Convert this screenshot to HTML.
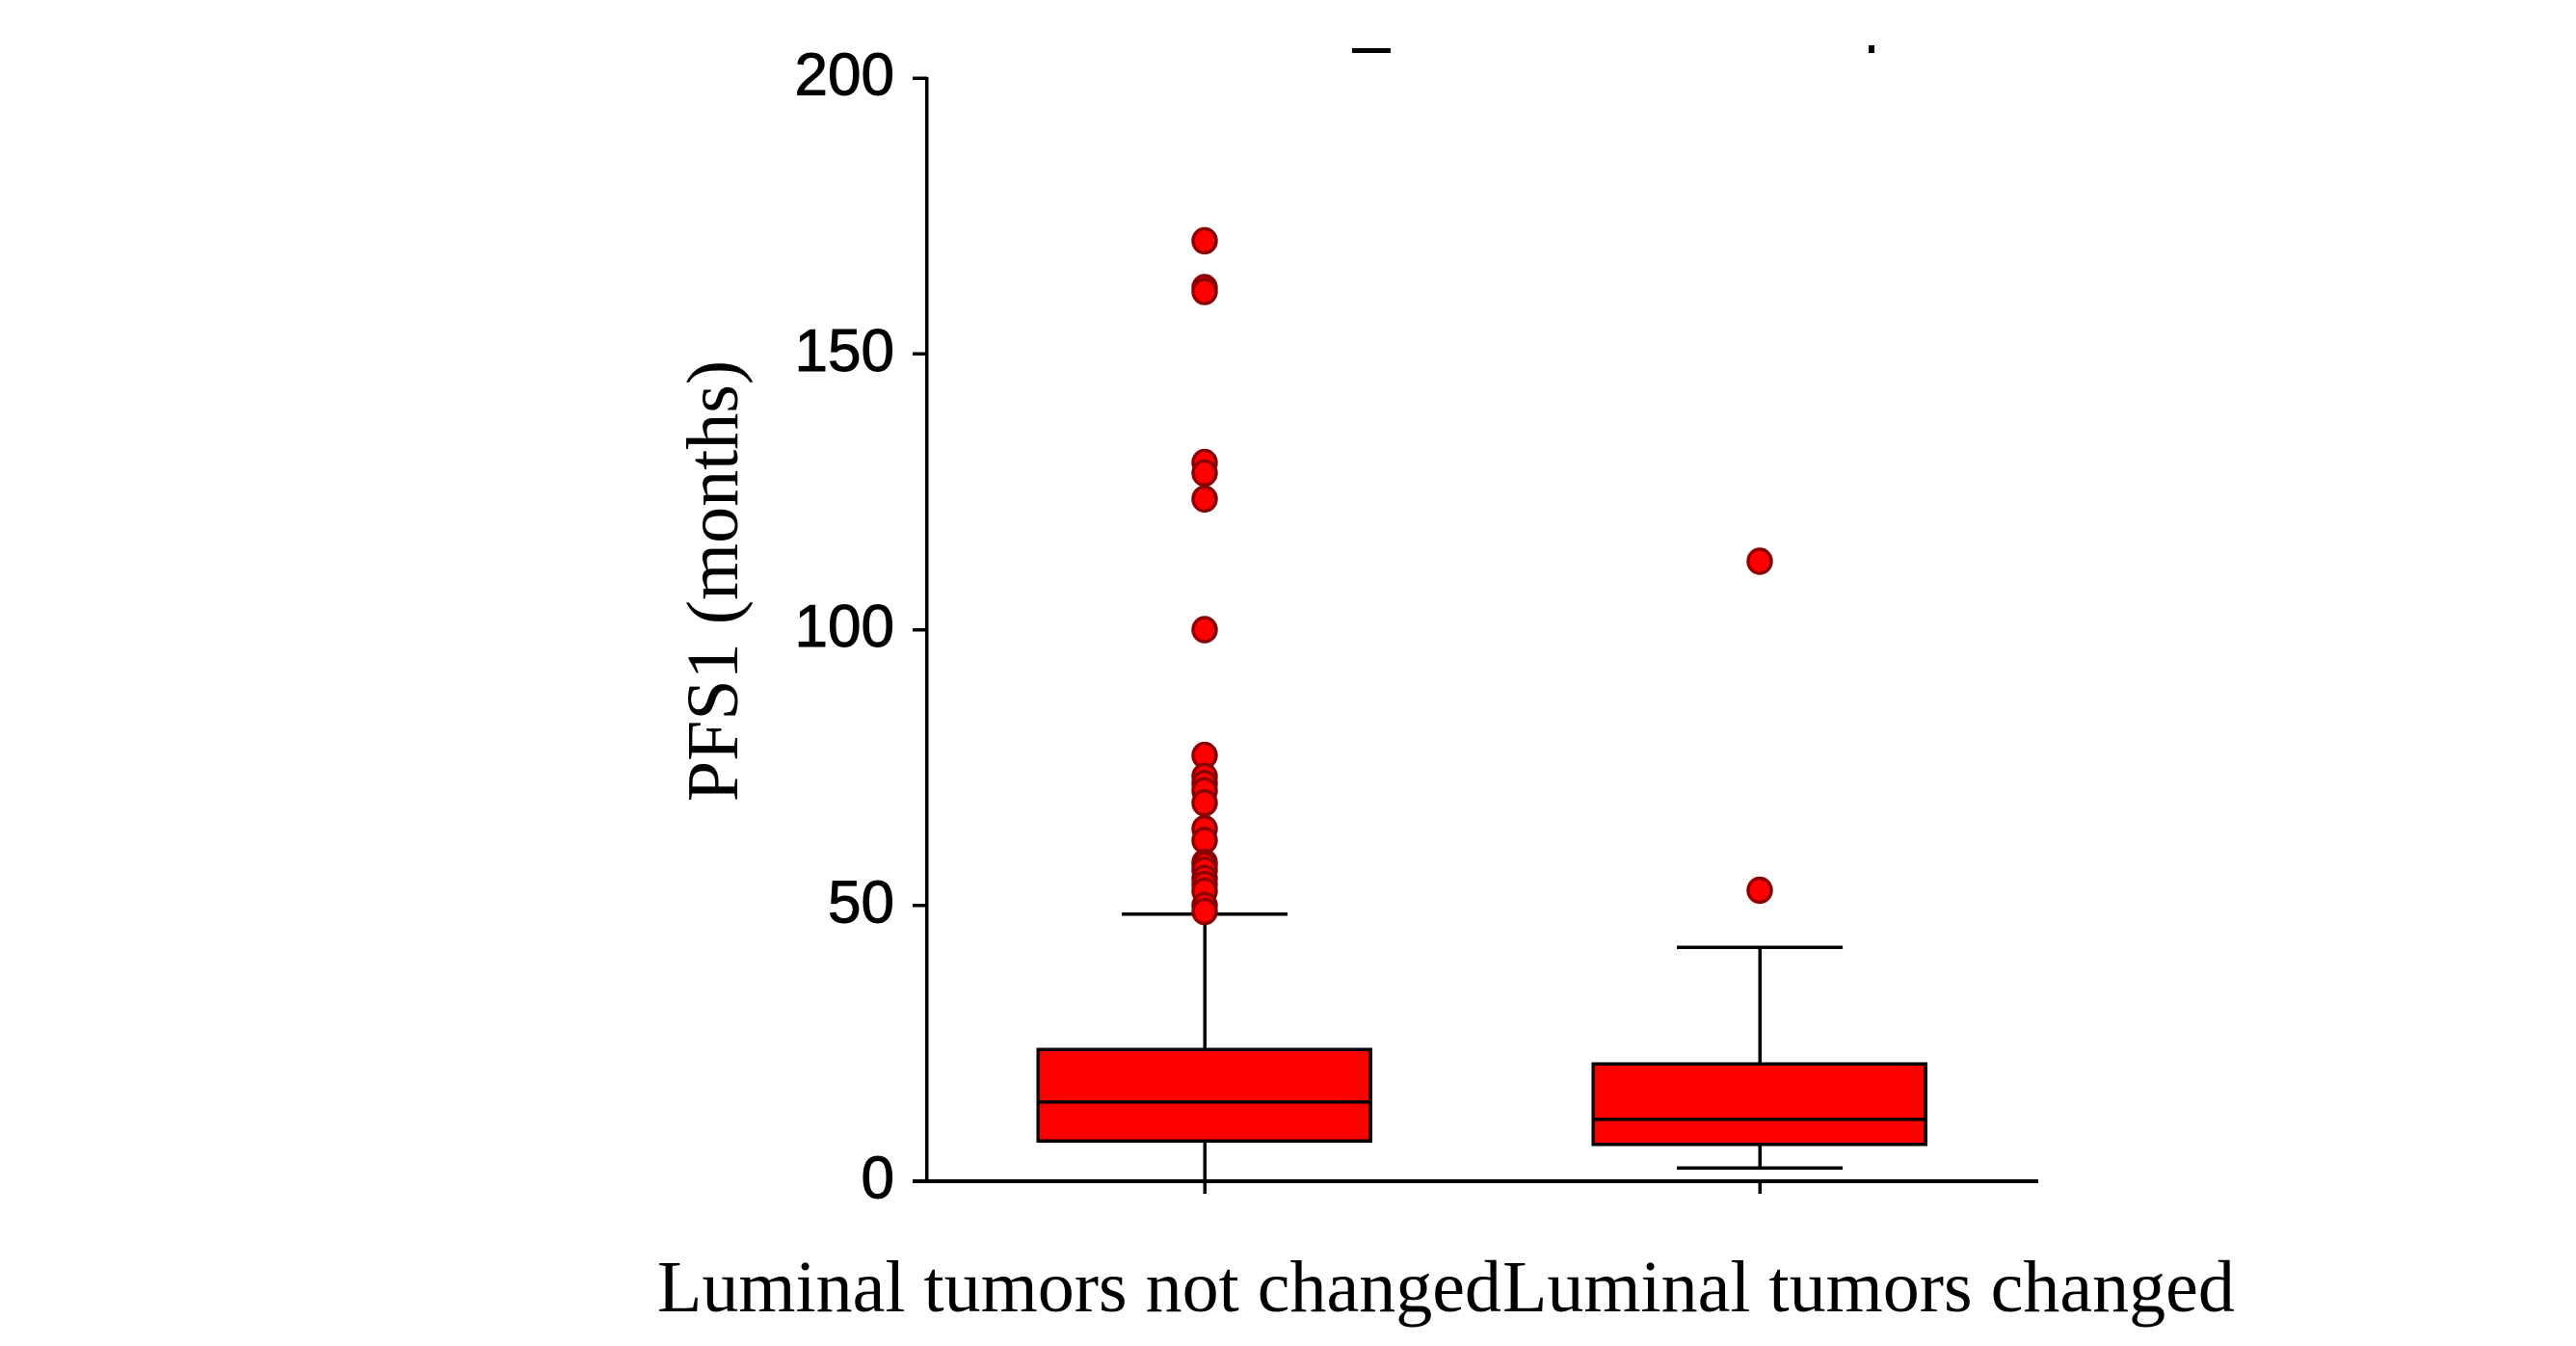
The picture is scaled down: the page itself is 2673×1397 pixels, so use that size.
<!DOCTYPE html>
<html lang="en">
<head>
<meta charset="utf-8">
<title>PFS1 box plot</title>
<style>
html,body{margin:0;padding:0;background:#fff;width:2673px;height:1397px;overflow:hidden}
svg{display:block}
.line{shape-rendering:crispEdges}
.tick-text{font-family:"Liberation Sans",Arial,sans-serif;font-size:62px;fill:#000;stroke:#000;stroke-width:1px}
.serif-text{font-family:"Liberation Serif","Times New Roman",serif;fill:#000}
</style>
</head>
<body>
<svg id="chart" xmlns="http://www.w3.org/2000/svg" width="2673" height="1397" viewBox="0 0 2673 1397">
<rect x="0" y="0" width="2673" height="1397" fill="#ffffff"/>
<rect class="line" x="1403" y="50" width="40" height="5" fill="#000"/>
<rect class="line" x="1939" y="47" width="6" height="8" fill="#000"/>
<text class="serif-text" font-size="76" text-anchor="middle" transform="translate(765 603) rotate(-90)">PFS1 (months)</text>
</svg>
<script>
const categories = ["Luminal tumors not changed", "Luminal tumors changed"];
const yTickLabels = [0, 50, 100, 150, 200];
const whiskerHigh = [48.4, 42.4];
const quartile3 = [23.9, 21.3];
const medians = [14.4, 11.2];
const quartile1 = [7.3, 6.7];
const whiskerLow = [0, 2.4];
const outliersNotChanged = [170.5, 162, 161.3, 130.3, 128.4, 123.7, 100, 77.2, 73.4, 72.1, 70.8, 68.6, 63.9, 61.8, 57.8, 57.3, 56.4, 54.9, 53.8, 52.6, 50, 48.9];
const outliersChanged = [112.4, 52.75];
const outlierSeries = [outliersNotChanged, outliersChanged];

const svg = document.getElementById('chart');
const NS = 'http://www.w3.org/2000/svg';
function yScale(v) { return 1226 - v * 5.725; }
function xScale(i) { return 1250 + i * 576; }
function make(tag, attrs) {
  const node = document.createElementNS(NS, tag);
  for (const k in attrs) node.setAttribute(k, attrs[k]);
  svg.appendChild(node);
  return node;
}
function segment(x1, y1, x2, y2, w) {
  return make('line', { x1: x1, y1: y1, x2: x2, y2: y2, stroke: '#000', 'stroke-width': w, class: 'line' });
}

categories.forEach(function (name, i) {
  const cx = xScale(i);
  const upper = segment(cx, yScale(whiskerHigh[i]), cx, yScale(quartile3[i]), 3.5);
  
  
  const lower = segment(cx, yScale(quartile1[i]), cx, yScale(whiskerLow[i]), 3.5);
  
  
  const capHigh = segment(cx - 86, yScale(whiskerHigh[i]), cx + 86, yScale(whiskerHigh[i]), 3.5);
  
  
  const capLow = segment(cx - 86, yScale(whiskerLow[i]), cx + 86, yScale(whiskerLow[i]), 3.5);
  
  
  const box = make('rect', { x: cx - 173, y: yScale(quartile3[i]), width: 345, height: yScale(quartile1[i]) - yScale(quartile3[i]), fill: '#ff0000', stroke: '#000', 'stroke-width': 3.5, class: 'line' });
  
  
  const median = segment(cx - 173, yScale(medians[i]), cx + 172, yScale(medians[i]), 3.5);
  
  
  outlierSeries[i].forEach(function (v) {
    const dot = make('ellipse', { cx: cx, cy: yScale(v), rx: 12, ry: 12.5, fill: '#ff0000', stroke: '#8b0000', 'stroke-width': 3.5 });
    
    
  });
});

const yAxis = segment(961.5, 80, 961.5, 1226, 3.5);


const xAxis = segment(947, 1226, 2115, 1226, 4);



yTickLabels.forEach(function (v) {
  const y = yScale(v);
  const tick = segment(947, y, 962, y, 3.5);
  
  
  const label = make('text', { x: 928, y: y + 17.5, 'text-anchor': 'end', class: 'tick-text' });
  label.textContent = String(v);
  
  
});

categories.forEach(function (name, i) {
  const cx = xScale(i);
  const tick = segment(cx, 1226, cx, 1239, 3.5);
  
  
  const label = make('text', { x: i === 0 ? 682 : 1559, y: 1361, 'font-size': 76, class: 'serif-text' });
  label.textContent = name;
  
  
});
</script>
</body>
</html>
